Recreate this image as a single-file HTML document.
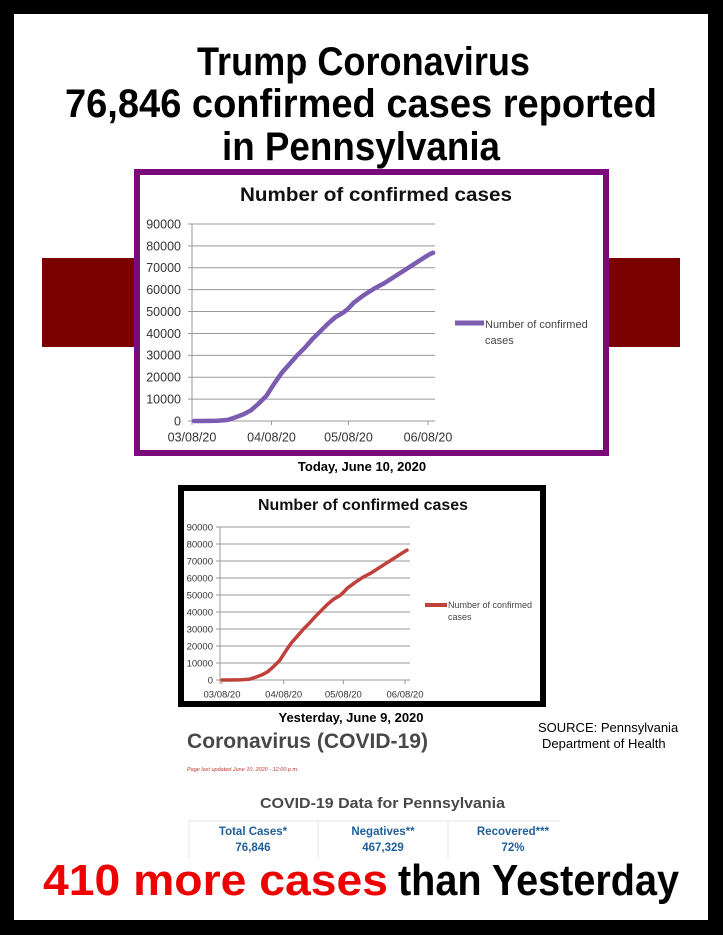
<!DOCTYPE html>
<html><head><meta charset="utf-8"><style>
html,body{margin:0;padding:0;background:#000;}
svg{display:block;font-family:"Liberation Sans",sans-serif;}
</style></head><body>
<svg id="root" width="723" height="935" viewBox="0 0 723 935" xmlns="http://www.w3.org/2000/svg">
<rect x="0" y="0" width="723" height="935" fill="#000"/>
<rect x="14" y="14" width="694" height="906" fill="#fff"/>
<g font-weight="bold" fill="#000">
<text x="197" y="75" font-size="40" textLength="333" lengthAdjust="spacingAndGlyphs">Trump Coronavirus</text>
<text x="65" y="117" font-size="40" textLength="592" lengthAdjust="spacingAndGlyphs">76,846 confirmed cases reported</text>
<text x="222" y="160" font-size="40" textLength="278" lengthAdjust="spacingAndGlyphs">in Pennsylvania</text>
</g>
<rect x="42" y="258" width="638" height="89" fill="#7b0000"/>
<rect x="137" y="172" width="469" height="281" fill="#fff" stroke="#7b0a7b" stroke-width="6"/>
<text x="240" y="201" font-size="19" font-weight="bold" fill="#111" textLength="272" lengthAdjust="spacingAndGlyphs">Number of confirmed cases</text>
<g id="c1"></g>
<line x1="455" y1="323" x2="484" y2="323" stroke="#7b5cb0" stroke-width="5"/>
<text x="485" y="328" font-size="11" fill="#444">Number of confirmed</text>
<text x="485" y="344" font-size="11" fill="#444">cases</text>
<text x="362" y="471" font-size="13" font-weight="bold" text-anchor="middle">Today, June 10, 2020</text>
<rect x="181" y="488" width="362" height="216" fill="#fff" stroke="#000" stroke-width="6"/>
<text x="258" y="510" font-size="16" font-weight="bold" fill="#111" textLength="210" lengthAdjust="spacingAndGlyphs">Number of confirmed cases</text>
<g id="c2"></g>
<line x1="425" y1="605" x2="447" y2="605" stroke="#c0403c" stroke-width="4"/>
<text x="448" y="608" font-size="9" fill="#444">Number of confirmed</text>
<text x="448" y="620" font-size="9" fill="#444">cases</text>
<text x="351" y="722" font-size="13" font-weight="bold" text-anchor="middle">Yesterday, June 9, 2020</text>
<text x="538" y="732" font-size="13" fill="#000">SOURCE: Pennsylvania</text>
<text x="542" y="748" font-size="13" fill="#000">Department of Health</text>
<text x="187" y="748" font-size="21" font-weight="bold" fill="#484848" textLength="241" lengthAdjust="spacingAndGlyphs">Coronavirus (COVID-19)</text>
<text x="187" y="771" font-size="5.5" font-style="italic" fill="#c0392b">Page last updated June 10, 2020 - 12:00 p.m.</text>
<text x="260" y="808" font-size="15" font-weight="bold" fill="#484848" textLength="245" lengthAdjust="spacingAndGlyphs">COVID-19 Data for Pennsylvania</text>
<g>
<line x1="189" y1="821" x2="560" y2="821" stroke="#e4e4e4"/>
<line x1="189" y1="821" x2="189" y2="858" stroke="#e4e4e4"/>
<line x1="318" y1="821" x2="318" y2="858" stroke="#e4e4e4"/>
<line x1="448" y1="821" x2="448" y2="858" stroke="#e4e4e4"/>
<g font-size="11.5" font-weight="bold" fill="#1f5f9a" text-anchor="middle">
<text x="253" y="835">Total Cases*</text>
<text x="253" y="851">76,846</text>
<text x="383" y="835">Negatives**</text>
<text x="383" y="851">467,329</text>
<text x="513" y="835">Recovered***</text>
<text x="513" y="851">72%</text>
</g></g>
<g font-size="44" font-weight="bold">
<text x="43" y="895" fill="#ee0000" textLength="345" lengthAdjust="spacingAndGlyphs">410 more cases</text>
<text x="398" y="895" fill="#000" textLength="281" lengthAdjust="spacingAndGlyphs">than Yesterday</text>
</g>
</svg>
<script>
// days offset from 03/08/20
const dayOffsets = [-2,4,10,14,17,20,23,26,29,32,35,38,41,44,47,50,53,56,59,61,63,67,71,75,79,83,87,91,93,94];
const caseValues = [0,0,100,500,1700,3000,4900,8000,11500,17000,22000,26000,30000,33500,37500,41000,44500,47500,49500,51500,54000,57500,60500,63000,66000,69000,72000,75000,76436,76846];
const yTicks = [0,10000,20000,30000,40000,50000,60000,70000,80000,90000];
const xTickLabels = ["03/08/20","04/08/20","05/08/20","06/08/20"];
const xTickDays = [0,31,61,92];
const NS = "http://www.w3.org/2000/svg";
function mk(tag, attrs, parent){const e=document.createElementNS(NS,tag);for(const k in attrs)e.setAttribute(k,attrs[k]);parent.appendChild(e);return e;}
function draw(id, cfg, n){
  const g=document.getElementById(id);
  const x=d=>cfg.x0+d*cfg.dx;
  const y=v=>cfg.y0-(v/90000)*(cfg.y0-cfg.yTop);
  yTicks.forEach(v=>{
    const l=mk('line',{x1:cfg.axisX-4,x2:cfg.right,y1:y(v),y2:y(v),stroke:'#999','stroke-width':1},g);
    
    
    const t=mk('text',{x:cfg.axisX-cfg.lp,y:y(v)+cfg.fs*0.35,'font-size':cfg.fs,'text-anchor':'end',fill:'#333'},g);
    t.textContent=v;
    
    
  });
  const ax=mk('line',{x1:cfg.axisX,x2:cfg.axisX,y1:cfg.yTop,y2:cfg.y0+4,stroke:'#999'},g);
  
  
  xTickDays.forEach((d,i)=>{
    const l=mk('line',{x1:x(d),x2:x(d),y1:cfg.y0,y2:cfg.y0+4,stroke:'#999'},g);
    
    
    const t=mk('text',{x:x(d),y:cfg.y0+cfg.fs+8,'font-size':cfg.fs,'text-anchor':'middle',fill:'#333'},g);
    t.textContent=xTickLabels[i];
    
    
  });
  let pts=[];
  for(let i=0;i<n;i++){pts.push(Math.max(x(dayOffsets[i]),cfg.axisX+2).toFixed(1)+','+y(caseValues[i]).toFixed(1));}
  const p=mk('polyline',{points:pts.join(' '),fill:'none',stroke:cfg.color,'stroke-width':cfg.w,'stroke-linejoin':'round','stroke-linecap':'round'},g);
  
  
}
draw('c1',{x0:192,dx:(428-192)/92,y0:421,yTop:224,axisX:192,right:435,fs:12.5,lp:11,color:'#7b5cb0',w:4.5},dayOffsets.length);
draw('c2',{x0:222,dx:(405-222)/92,y0:680,yTop:527,axisX:220,right:410,fs:9.5,lp:7,color:'#c0403c',w:3.5},dayOffsets.length-1);
</script>
</body></html>
